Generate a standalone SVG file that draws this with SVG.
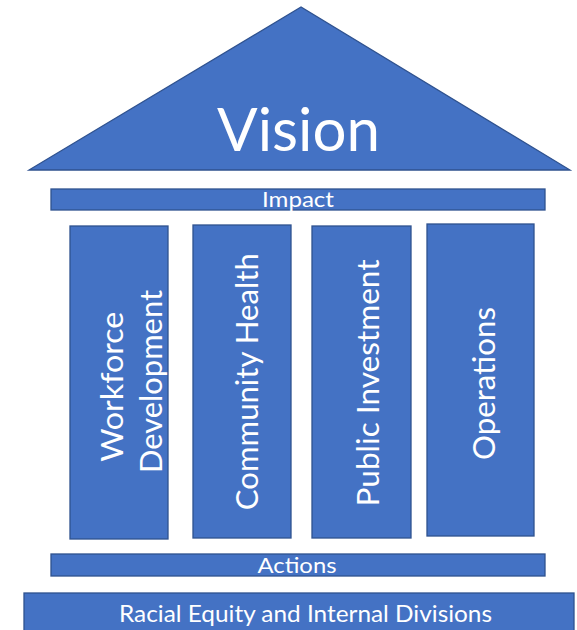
<svg xmlns="http://www.w3.org/2000/svg" width="577" height="630" viewBox="0 0 577 630">
<style>
.s{fill:#4472C4;stroke:#2F528F;stroke-width:1.3}
.t{fill:#FFFFFF;font-family:Lato,"Open Sans","Liberation Sans",sans-serif;text-anchor:middle}
.p{font-size:31px}
</style>
<rect width="577" height="630" fill="#FFFFFF"/>
<g id="vision">
<polygon class="s" points="301,7 29,170 570,170"/>
<text class="t" x="298.5" y="151" font-size="60" textLength="163" lengthAdjust="spacingAndGlyphs">Vision</text>
</g>
<g id="impact">
<rect class="s" x="51" y="189" width="494" height="21"/>
<text class="t" x="298" y="206.5" font-size="21" textLength="72" lengthAdjust="spacingAndGlyphs">Impact</text>
</g>
<g id="workforce">
<rect class="s" x="70" y="226" width="98" height="313"/>
<text class="t p" transform="translate(123,386.7) rotate(-90)" textLength="150" lengthAdjust="spacingAndGlyphs">Workforce</text>
<text class="t p" transform="translate(162,381.5) rotate(-90)" textLength="183" lengthAdjust="spacingAndGlyphs">Development</text>
</g>
<g id="community">
<rect class="s" x="193" y="225" width="98" height="313"/>
<text class="t p" transform="translate(258,381.7) rotate(-90)" textLength="257" lengthAdjust="spacingAndGlyphs">Community Health</text>
</g>
<g id="public">
<rect class="s" x="312" y="226" width="99" height="312"/>
<text class="t p" transform="translate(379,383) rotate(-90)" textLength="247" lengthAdjust="spacingAndGlyphs">Public Investment</text>
</g>
<g id="operations">
<rect class="s" x="427" y="224" width="107" height="312"/>
<text class="t p" transform="translate(495,383.5) rotate(-90)" textLength="153" lengthAdjust="spacingAndGlyphs">Operations</text>
</g>
<g id="actions">
<rect class="s" x="51" y="554" width="494" height="22"/>
<text class="t" x="297" y="573" font-size="22" textLength="79" lengthAdjust="spacingAndGlyphs">Actions</text>
</g>
<g id="racial">
<rect class="s" x="24" y="593" width="550" height="45"/>
<text class="t" x="305.5" y="622" font-size="23.5" textLength="373" lengthAdjust="spacingAndGlyphs">Racial Equity and Internal Divisions</text>
</g>
<g id="connectors"></g>
</svg>
